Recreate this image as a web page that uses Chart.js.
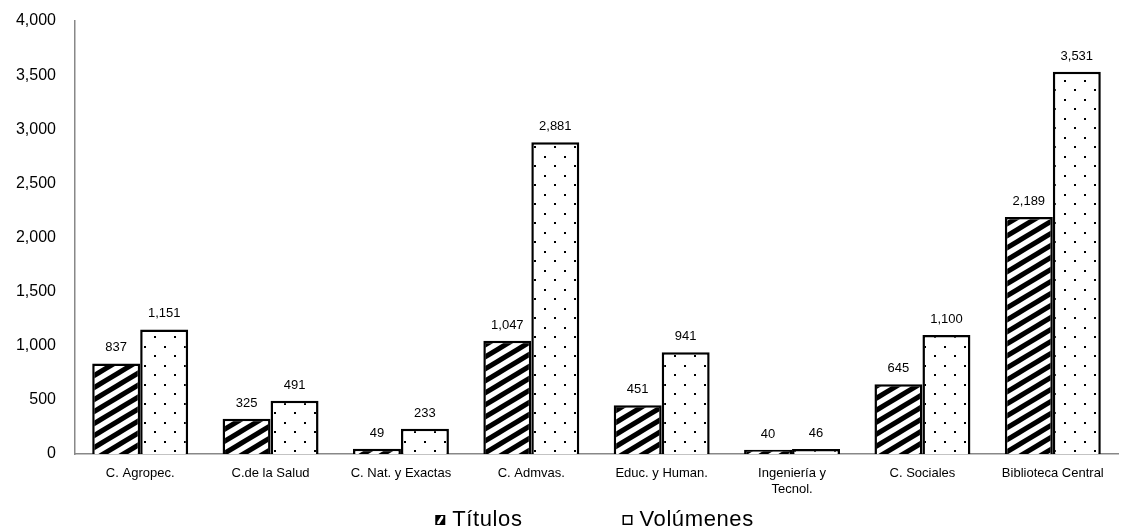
<!DOCTYPE html>
<html>
<head>
<meta charset="utf-8">
<script src="https://cdn.jsdelivr.net/npm/chart.js@4.4.0/dist/chart.umd.min.js"></script>
<style>
  html, body { margin: 0; padding: 0; background: #fff; }
  #wrap { width: 1122px; height: 530px; }
</style>
</head>
<body>
<div id="wrap"><canvas id="c" width="1122" height="530"></canvas></div>
<script>
const categories = ['C. Agropec.', 'C.de la Salud', 'C. Nat. y Exactas', 'C. Admvas.', 'Educ. y Human.', ['Ingeniería y', 'Tecnol.'], 'C. Sociales', 'Biblioteca Central'];
const titulos = [837, 325, 49, 1047, 451, 40, 645, 2189];
const volumenes = [1151, 491, 233, 2881, 941, 46, 1100, 3531];
const seriesNames = ['Títulos', 'Volúmenes'];
const yMin = 0, yMax = 4000, yStep = 500;

const FONT = '"Liberation Sans", Arial, sans-serif';
const fmt = v => Number(v).toLocaleString('en-US');

function hatchPattern() {
  const w = 20, h = 12;
  const cv = document.createElement('canvas');
  cv.width = w; cv.height = h;
  const g = cv.getContext('2d');
  g.fillStyle = '#fff'; g.fillRect(0, 0, w, h);
  g.strokeStyle = '#000'; g.lineWidth = 5;
  for (let j = -1; j <= 1; j++) {
    g.beginPath();
    g.moveTo(-w, 2 * h + j * h);
    g.lineTo(2 * w, -h + j * h);
    g.stroke();
  }
  return g.createPattern(cv, 'repeat');
}
function dotPattern() {
  const w = 20, h = 19;
  const cv = document.createElement('canvas');
  cv.width = w; cv.height = h;
  const g = cv.getContext('2d');
  g.fillStyle = '#fff'; g.fillRect(0, 0, w, h);
  g.fillStyle = '#000';
  g.fillRect(4, 4, 2, 2);
  g.fillRect(14, 13, 2, 2);
  return g.createPattern(cv, 'repeat');
}

const labelPlugin = {
  id: 'barLabels',
  afterDatasetsDraw(chart) {
    const ctx = chart.ctx;
    ctx.save();
    ctx.font = '13px ' + FONT;
    ctx.fillStyle = '#000';
    ctx.textAlign = 'center';
    ctx.textBaseline = 'alphabetic';
    chart.data.datasets.forEach((ds, i) => {
      const meta = chart.getDatasetMeta(i);
      meta.data.forEach((el, k) => {
        ctx.fillText(fmt(ds.data[k]), el.x, el.y - 12);
      });
    });
    ctx.restore();
  }
};

const legendPlugin = {
  id: 'customLegend',
  afterDraw(chart) {
    const ctx = chart.ctx;
    const ca = chart.chartArea;
    ctx.save();
    ctx.font = '22px ' + FONT;
    try { ctx.letterSpacing = '0.6px'; } catch (e) {}
    ctx.textBaseline = 'middle';
    ctx.textAlign = 'left';
    const box = 10, gapBox = 7, gapItem = 100;
    const widths = seriesNames.map(n => ctx.measureText(n).width);
    const total = widths.reduce((a, b) => a + b, 0) + 2 * (box + gapBox) + gapItem;
    let x = (ca.left + ca.right) / 2 - total / 2 - 2;
    const yc = 520;
    seriesNames.forEach((n, i) => {
      if (i === 0) {
        ctx.fillStyle = '#000';
        ctx.fillRect(x, yc - box / 2, box, box);
        ctx.fillStyle = '#fff';
        ctx.beginPath();
        ctx.moveTo(x + 2, yc + 2);
        ctx.lineTo(x + 2, yc + 4);
        ctx.lineTo(x + 4, yc + 4);
        ctx.lineTo(x + 8, yc - 2);
        ctx.lineTo(x + 8, yc - 4);
        ctx.lineTo(x + 6, yc - 4);
        ctx.closePath();
        ctx.fill();
      } else {
        ctx.fillStyle = '#fff';
        ctx.fillRect(x, yc - box / 2, box, box);
        ctx.strokeStyle = '#000';
        ctx.lineWidth = 1.5;
        ctx.strokeRect(x + 0.75, yc - box / 2 + 0.75, box - 1.5, box - 1.5);
      }
      ctx.fillStyle = '#000';
      ctx.fillText(n, x + box + gapBox, yc);
      x += box + gapBox + widths[i] + gapItem;
    });
    ctx.restore();
  }
};

new Chart(document.getElementById('c'), {
  type: 'bar',
  data: {
    labels: categories,
    datasets: [
      { label: seriesNames[0], data: titulos, backgroundColor: hatchPattern(), borderColor: '#000', borderWidth: 2.5 },
      { label: seriesNames[1], data: volumenes, backgroundColor: dotPattern(), borderColor: '#000', borderWidth: 2.5 }
    ]
  },
  options: {
    responsive: false,
    animation: false,
    layout: { padding: { top: 21, right: 4, bottom: 30, left: 0 } },
    datasets: { bar: { categoryPercentage: 0.736, barPercentage: 1 } },
    plugins: { legend: { display: false }, tooltip: { enabled: false } },
    scales: {
      x: {
        grid: { display: false, drawTicks: false },
        border: { display: true, color: '#888', width: 1.5 },
        ticks: { color: '#000', font: { size: 13, family: FONT }, maxRotation: 0, autoSkip: false, padding: 12 },
        afterFit(s) { s.height = 46; }
      },
      y: {
        min: yMin, max: yMax,
        grid: { display: false, drawTicks: false },
        border: { display: true, color: '#888', width: 1.5 },
        ticks: { stepSize: yStep, color: '#000', font: { size: 16, family: FONT }, padding: 19, callback: v => fmt(v) },
        afterFit(s) { s.width = 75; s.paddingTop = 0; s.paddingBottom = 0; }
      }
    }
  },
  plugins: [labelPlugin, legendPlugin]
});
</script>
</body>
</html>
